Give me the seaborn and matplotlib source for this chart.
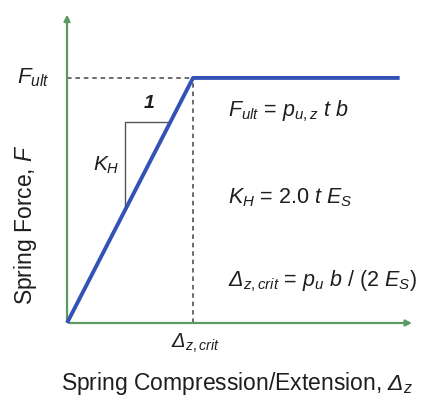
import matplotlib
matplotlib.use("Agg")
import matplotlib.pyplot as plt
import seaborn as sns
import pandas as pd

# spring curve (normalised: crit displacement = 1, ultimate force = 1)
disp = [0.0, 1.0, 2.64]
force = [0.0, 1.0, 1.0]
x_axis_end = 2.76
y_axis_end = 1.27

sns.set_style("white")
plt.rcParams['font.family'] = ['Liberation Sans', 'DejaVu Sans']
plt.rcParams['mathtext.fontset'] = 'custom'
plt.rcParams['mathtext.rm'] = 'Liberation Sans'
plt.rcParams['mathtext.it'] = 'Liberation Sans:italic'
plt.rcParams['mathtext.bf'] = 'Liberation Sans:bold'
# italic capital Greek (mathit forces upright for those)
plt.rcParams['mathtext.sf'] = 'Liberation Sans:italic'

DELTA = r"\mathsf{\Delta}"

fig = plt.figure(figsize=(4.28, 3.97), dpi=100)
ax = fig.add_axes([0, 0, 1, 1])
ax.set_xlim(-0.532, 2.865)
ax.set_ylim(-0.302, 1.318)
ax.axis("off")

green = "#5b9a63"
ax.annotate("", xy=(x_axis_end, 0), xytext=(0, 0),
            arrowprops=dict(arrowstyle="-|>", color=green, lw=1.6, mutation_scale=9))
ax.annotate("", xy=(0, y_axis_end), xytext=(0, 0),
            arrowprops=dict(arrowstyle="-|>", color=green, lw=1.6, mutation_scale=9))

# dashed guides
ax.plot([0, disp[1]], [force[1], force[1]], ls=(0, (3, 2.5)), color="#444444", lw=1.1)
ax.plot([disp[1], disp[1]], [0, force[1]], ls=(0, (3, 2.5)), color="#444444", lw=1.1)

df = pd.DataFrame({"disp": disp, "force": force})
sns.lineplot(data=df, x="disp", y="force", ax=ax, color="#3451b5", lw=2.8,
             solid_capstyle="butt", zorder=5)

# slope triangle
tx0, ty1 = 0.46, 0.82
ax.plot([tx0, tx0, ty1], [tx0, ty1, ty1], color="#555555", lw=1.0, zorder=4)
ax.text(0.65, 0.895, "1", fontsize=14, fontstyle="italic", fontweight="bold",
        ha="center", va="center", color="#1e1e1e")
ax.text(0.31, 0.645, r"$K_H$", fontsize=15, ha="center", va="center", color="#1e1e1e")

# axis labels
ax.text(-0.27, 1.0, r"$F_{ult}$", fontsize=16, ha="center", va="center", color="#1e1e1e")
ax.text(1.02, -0.085, r"$%s_{z,crit}$" % DELTA, fontsize=14.5, ha="center", va="center",
        color="#1e1e1e")
ax.text(-0.333, 0.40, r"Spring Force, $F$", fontsize=16.5, rotation=90, ha="center",
        va="center", color="#1e1e1e")
ax.text(1.35, -0.245, r"Spring Compression/Extension, $%s_z$" % DELTA, fontsize=16.5,
        ha="center", va="center", color="#1e1e1e")

# formulas
fx = 1.278
ax.text(fx, 0.865, r"$F_{ult}$ = $p_{u,z}$ $t$ $b$", fontsize=15.5, ha="left", va="center",
        color="#1e1e1e")
ax.text(fx, 0.51, r"$K_H$ = 2.0 $t$ $E_S$", fontsize=15.5, ha="left", va="center",
        color="#1e1e1e")
ax.text(fx, 0.17, r"$%s_{z,crit}$ = $p_u$ $b$ / (2 $E_S$)" % DELTA, fontsize=15.5,
        ha="left", va="center", color="#1e1e1e")

fig.savefig("out.png", dpi=100)
